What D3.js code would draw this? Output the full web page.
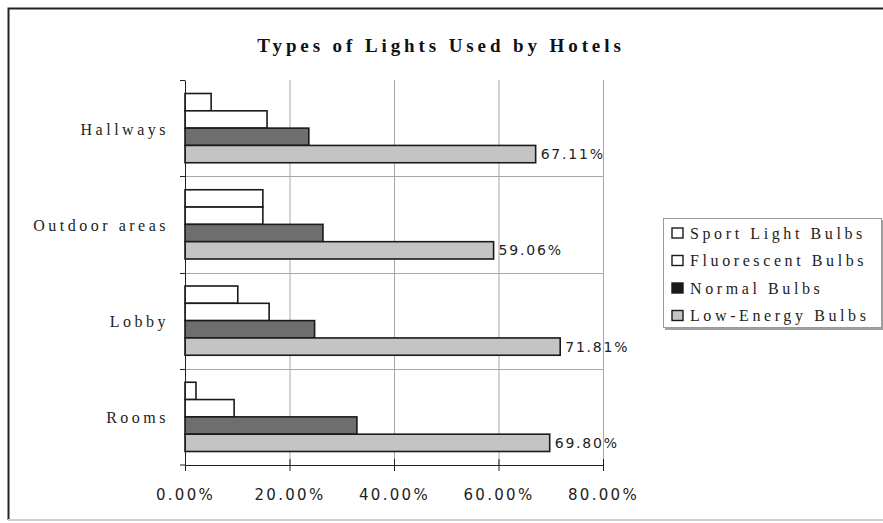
<!DOCTYPE html>
<html>
<head>
<meta charset="utf-8">
<script src="https://cdn.jsdelivr.net/npm/d3@7"></script>
<style>
  body { margin: 0; background: #fff; }
  svg { display: block; }
</style>
</head>
<body>
<script>
  // chart values
  const categories = ['Hallways', 'Outdoor areas', 'Lobby', 'Rooms'];
  const seriesNames = ['Sport Light Bulbs', 'Fluorescent Bulbs', 'Normal Bulbs', 'Low-Energy Bulbs'];
  const sportLight = [5.0, 14.9, 10.1, 2.1];
  const fluorescent = [15.7, 14.9, 16.1, 9.4];
  const normal = [23.7, 26.4, 24.8, 32.9];
  const lowEnergy = [67.11, 59.06, 71.81, 69.80];
  const xTicks = [0, 20, 40, 60, 80];

  const seriesValues = [sportLight, fluorescent, normal, lowEnergy];
  const fills = ['#ffffff', '#ffffff', '#6e6e6e', '#c4c4c4'];

  const width = 883;
  const height = 523;
  const margin = { top: 80, right: 280, bottom: 58, left: 185 };

  const svg = d3.select('body')
    .append('svg')
    .attr('width', width)
    .attr('height', height);

  // outer frame
  svg.append('path')
    .attr('d', `M${width + 5},8.5 H8.5 V520`)
    .attr('fill', 'none')
    .attr('stroke', '#222')
    .attr('stroke-width', 2);
  svg.append('line')
    .attr('x1', 8).attr('x2', width)
    .attr('y1', 520).attr('y2', 520)
    .attr('stroke', '#d0d0d0')
    .attr('stroke-width', 2);

  const x = d3.scaleLinear()
    .domain([0, 80])
    .range([margin.left, width - margin.right]);

  const y = d3.scaleBand()
    .domain(categories)
    .range([margin.top, height - margin.bottom]);

  const inner = d3.scaleBand()
    .domain(d3.range(seriesNames.length))
    .range([0, y.bandwidth()])
    .paddingOuter(0.78);

  // gridlines
  const grid = svg.append('g').attr('stroke', '#a8a8a8').attr('stroke-width', 1);
  grid.selectAll('line.v')
    .data(xTicks.slice(1))
    .join('line')
    .attr('class', 'v')
    .attr('x1', (d) => x(d) + 0.5).attr('x2', (d) => x(d) + 0.5)
    .attr('y1', margin.top).attr('y2', height - margin.bottom);
  grid.selectAll('line.h')
    .data(categories.slice(1))
    .join('line')
    .attr('class', 'h')
    .attr('x1', x(0)).attr('x2', x(80))
    .attr('y1', (d) => Math.round(y(d)) + 0.5)
    .attr('y2', (d) => Math.round(y(d)) + 0.5);

  // bars
  const groups = svg.append('g')
    .selectAll('g')
    .data(categories)
    .join('g')
    .attr('transform', (d) => `translate(0,${y(d)})`);

  groups.selectAll('rect')
    .data((d, i) => seriesValues.map((vals, s) => ({ s, v: vals[i] })))
    .join('rect')
    .attr('x', x(0))
    .attr('y', (d) => inner(d.s))
    .attr('width', (d) => x(d.v) - x(0))
    .attr('height', inner.bandwidth())
    .attr('fill', (d) => fills[d.s])
    .attr('stroke', '#1a1a1a')
    .attr('stroke-width', 1.6);

  // value labels on low-energy bars
  groups.append('text')
    .attr('x', (d, i) => x(lowEnergy[i]) + 5)
    .attr('y', inner(3) + inner.bandwidth() / 2)
    .attr('dy', '0.36em')
    .attr('font-family', 'DejaVu Sans, sans-serif')
    .attr('font-size', 14)
    .attr('letter-spacing', 1.8)
    .attr('fill', '#222')
    .text((d, i) => lowEnergy[i].toFixed(2) + '%');

  // axes
  const xAxis = svg.append('g')
    .attr('transform', `translate(0,${height - margin.bottom})`)
    .call(d3.axisBottom(x)
      .tickValues(xTicks)
      .tickSize(6)
      .tickPadding(18)
      .tickFormat((d) => d.toFixed(2) + '%'));
  xAxis.select('.domain').attr('stroke', '#222');
  xAxis.selectAll('.tick line').attr('stroke', '#222').attr('y1', -6);
  xAxis.selectAll('text')
    .attr('font-family', 'DejaVu Sans, sans-serif')
    .attr('font-size', 15)
    .attr('letter-spacing', 2.3)
    .attr('fill', '#222');

  const yAxis = svg.append('g')
    .attr('transform', `translate(${margin.left},0)`)
    .call(d3.axisLeft(y).tickSize(0).tickPadding(16));
  yAxis.select('.domain').attr('stroke', '#222');
  yAxis.selectAll('text')
    .attr('font-family', 'Liberation Serif, serif')
    .attr('font-size', 16)
    .attr('letter-spacing', 3.5)
    .attr('fill', '#222')
    .attr('dy', '0.4em');
  // band boundary ticks
  yAxis.selectAll('line.b')
    .data(categories.concat(['end']))
    .join('line')
    .attr('class', 'b')
    .attr('x1', -5).attr('x2', 0)
    .attr('y1', (d) => d === 'end' ? height - margin.bottom : Math.round(y(d)) + 0.5)
    .attr('y2', (d) => d === 'end' ? height - margin.bottom : Math.round(y(d)) + 0.5)
    .attr('stroke', '#222');

  // title
  svg.append('text')
    .attr('x', 441)
    .attr('y', 52)
    .attr('text-anchor', 'middle')
    .attr('font-family', 'Liberation Serif, serif')
    .attr('font-weight', 'bold')
    .attr('font-size', 19)
    .attr('letter-spacing', 3.9)
    .attr('fill', '#111')
    .text('Types of Lights Used by Hotels');

  // legend
  const legend = svg.append('g').attr('transform', 'translate(663,218)');
  legend.append('rect')
    .attr('x', 2).attr('y', 2)
    .attr('width', 218).attr('height', 110)
    .attr('fill', '#a0a0a0');
  legend.append('rect')
    .attr('x', 0.5).attr('y', 0.5)
    .attr('width', 218).attr('height', 109)
    .attr('fill', '#fff')
    .attr('stroke', '#9a9a9a');
  const items = legend.selectAll('g.item')
    .data(seriesNames)
    .join('g')
    .attr('class', 'item')
    .attr('transform', (d, i) => `translate(9,${15 + i * 27.5})`);
  items.append('rect')
    .attr('x', 0).attr('y', -5)
    .attr('width', 11).attr('height', 10)
    .attr('fill', (d, i) => i === 2 ? '#1a1a1a' : fills[i])
    .attr('stroke', '#1a1a1a')
    .attr('stroke-width', 1.4);
  items.append('text')
    .attr('x', 18)
    .attr('dy', '0.35em')
    .attr('font-family', 'Liberation Serif, serif')
    .attr('font-size', 16)
    .attr('letter-spacing', 3.6)
    .attr('fill', '#222')
    .text((d) => d);
</script>
</body>
</html>
